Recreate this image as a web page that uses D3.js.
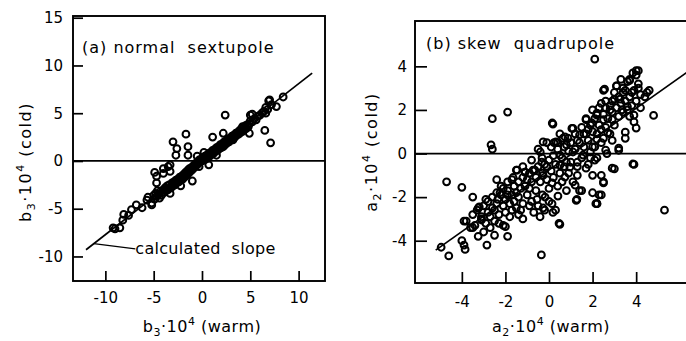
<!DOCTYPE html>
<html>
<head>
<meta charset="utf-8">
<script src="https://cdn.jsdelivr.net/npm/d3@7/dist/d3.min.js"></script>
<style>
  html, body { margin: 0; padding: 0; background: #fff; }
  svg { display: block; }
  text { font-family: "DejaVu Sans", sans-serif; fill: #000; white-space: pre; }
</style>
</head>
<body>
<svg id="chart" width="686" height="341"></svg>
<script>
// ---------- Data ----------
// (a) normal sextupole: [b3 warm, b3 cold] (x 10^-4)
const sextupolePoints = [
  [-9.2,-7.0],[-9.0,-7.1],[-8.5,-7.0],[-8.2,-6.2],[-8.1,-5.6],[-7.6,-5.7],[-7.3,-5.1],[-6.8,-4.6],
  [-6.2,-4.9],[-5.7,-4.1],[-5.6,-3.8],[-5.2,-4.6],[-5.2,-4.4],[-5.0,-3.6],[-4.9,-4.0],[-4.8,-3.4],
  [-4.7,-3.7],[-4.6,-3.1],[-4.5,-3.5],[-4.4,-3.9],[-4.3,-3.2],[-4.2,-3.6],[-4.0,-3.0],[-3.9,-3.3],
  [-3.8,-2.8],[-3.7,-3.1],[-3.6,-2.6],[-3.5,-3.0],[-3.4,-2.5],[-3.3,-3.4],[-3.2,-2.8],[-3.1,-2.3],
  [-3.0,-2.6],[-2.9,-2.2],[-2.8,-2.5],[-2.7,-2.0],[-2.6,-2.3],[-2.5,-1.9],[-2.4,-2.2],[-2.3,-1.7],
  [-2.2,-2.0],[-2.1,-1.6],[-2.0,-1.9],[-1.9,-1.4],[-1.8,-1.7],[-1.7,-1.2],[-1.6,-1.5],[-1.5,-1.0],
  [-1.4,-1.3],[-1.3,-0.8],[-1.2,-1.1],[-1.1,-0.7],[-1.0,-0.9],[-0.9,-0.5],[-0.8,-0.7],[-0.7,-0.3],
  [-0.6,-0.5],[-0.5,-0.1],[-0.4,-0.3],[-0.3,0.1],[-0.2,-0.1],[-0.1,0.2],[0.0,0.0],[0.1,0.3],
  [0.2,0.1],[0.3,0.5],[0.4,0.2],[0.5,0.6],[0.6,0.4],[0.7,0.8],[0.8,0.5],[0.9,0.9],[1.0,0.7],
  [1.1,1.1],[1.2,0.8],[1.3,1.2],[1.4,1.0],[1.5,1.4],[1.6,1.1],[1.7,1.5],[1.8,1.3],[1.9,1.7],
  [2.0,1.4],[2.1,1.8],[2.2,1.5],[2.3,2.0],[2.4,1.7],[2.5,2.1],[2.6,1.9],[2.7,2.3],[2.8,2.0],
  [2.9,2.4],[3.0,2.2],[3.1,2.6],[3.2,2.3],[3.3,2.7],[3.4,2.5],[3.5,2.9],[3.6,2.7],[3.7,3.0],
  [3.8,2.8],[3.9,3.2],[4.0,3.0],[4.1,3.4],[4.2,3.1],[4.3,3.5],[4.4,3.3],[4.5,3.7],[4.6,3.4],
  [4.7,3.8],[4.8,3.6],[4.9,3.9],[5.0,4.2],[5.2,4.1],[5.4,4.4],[5.6,4.3],[5.8,4.7],[6.0,4.8],
  [6.2,5.0],[6.4,5.2],[6.6,5.6],[6.8,5.4],[7.0,6.4],[6.9,6.3],[7.2,5.9],[7.7,5.7],[8.4,6.7],
  [-2.95,-2.45],[-2.55,-2.05],[-2.15,-1.75],[-1.75,-1.45],[-1.35,-1.05],[-0.95,-0.75],[-0.55,-0.35],
  [-0.15,0.05],[0.25,0.25],[0.65,0.55],[1.05,0.85],[1.45,1.25],[1.85,1.45],[2.25,1.85],[2.65,2.15],
  [3.05,2.45],[3.45,2.75],[3.85,3.05],[-3.85,-3.05],[-4.45,-3.45],[4.2,3.6],
  [2.4,4.8],[6.5,3.2],[7.1,1.9],[5.0,4.8],[5.2,4.9],[1.1,2.5],[2.2,2.9],[6.6,5.0],[4.9,2.9],[3.2,2.2],
  [-1.66,2.8],[-3.0,2.0],[-1.45,1.5],[-2.6,1.3],[-2.7,0.6],[-1.45,0.6],[-4.9,-1.2],[-4.7,-1.6],
  [-4.0,-0.8],[-3.5,-0.6],[-3.3,-1.1],[-4.0,-1.3],[-3.3,-0.4],[-4.7,-2.3],[-0.5,0.5],[0.7,-0.4],
  [-1.0,-2.1],[-2.2,-2.6],[-0.3,-0.6],[1.5,0.6],[0.2,0.9]
];
// (b) skew quadrupole: [a2 warm, a2 cold] (x 10^-4)
const quadrupolePoints = [
  [2.1,4.33],[-2.6,1.6],[-1.9,1.9],[-2.66,0.4],[-2.6,0.2],[0.15,1.4],[-4.7,-1.3],[-4.0,-1.55],
  [-3.5,-2.0],[-2.4,-1.2],[-4.95,-4.3],[-4.6,-4.7],[-3.9,-3.1],[-4.0,-4.0],[-3.9,-4.2],[-3.85,-4.4],
  [-3.25,-3.8],[-2.85,-4.2],[-2.5,-3.75],[-1.9,-3.8],[-2.1,-3.3],[-3.25,-2.5],[-3.5,-3.4],[-3.1,-3.0],
  [-2.8,-2.7],[-2.5,-2.6],[-2.35,-2.1],[-2.4,-1.8],[-2.1,-1.6],[-1.9,-1.9],[-1.7,-1.2],[-3.2,-2.45],
  [-2.9,-2.1],[-0.35,-4.65],[0.5,-3.25],[5.3,-2.6],[4.8,1.75],[3.9,-0.5],[3.2,0.15],[3.0,-0.7],
  [2.55,2.95],[3.1,3.1],[4.0,3.8],[3.7,3.35],[4.6,2.9],[1.25,-2.15],[2.2,-2.3],[2.4,-1.9],
  [2.5,-1.3],[1.5,-1.7],[-2.0,-3.35],
  [-1.47,-0.76],[-1.1,-0.85],[-0.73,-0.76],[-0.32,-0.2],[-0.27,-1.0],[0.14,-1.35],[0.41,-1.95],
  [-0.18,-2.0],[-0.55,-2.1],[0.14,-2.3],[-0.27,-2.5],[-0.41,-2.9],[0.18,-2.7],[-1.2,-3.0],[-1.4,-2.8],
  [0.46,-3.2],[1.2,-1.45],[1.4,-1.7],[1.28,-2.1],[2.0,-1.8],[2.3,-1.9],[2.2,-2.3],[2.5,-1.35],
  [2.4,-1.0],[1.7,-0.67],[1.3,-1.0],[0.73,-1.08],[0.96,-0.62],[0.5,-0.53],[2.1,-0.3],[1.9,0.07],
  [2.66,0.0],[-1.65,-1.1],[-1.7,-2.6],
  [4.1,3.8],[4.0,3.6],[4.1,3.2],[3.7,3.4],[3.85,3.7],[3.1,3.1],[3.0,2.8],[2.5,2.9],[3.4,2.8],
  [3.8,2.8],[4.2,2.7],[4.5,2.8],[4.4,2.6],[3.9,1.76],[3.9,1.45],[4.0,1.17],[3.5,0.98],[3.5,0.7],
  [2.9,0.6],[3.2,0.25],[2.6,0.16],[2.1,0.3],[2.2,-0.2],[2.9,-0.67],[3.85,-0.48],[2.0,-1.0],
  [2.15,-2.3],[2.2,1.85],[2.8,2.0],[2.5,1.55],[2.9,1.55],[3.35,2.0],[3.6,2.15],[3.7,1.7],
  [2.0,1.0],[2.4,1.1],[2.7,0.95],[2.5,0.7],[1.97,1.4],[2.2,0.66],
  [0.18,1.35],[-0.1,0.5],[0.23,0.5],[0.64,0.7],[1.05,1.15],[1.4,0.85],[1.7,1.55],[1.8,1.1],
  [2.2,1.8],[0.87,0.7],[0.4,0.5],[-0.4,0.07],[-0.33,-0.4],[0.5,-0.07],[1.1,0.07],[1.56,-0.07],
  [0.8,-0.4],[1.9,-0.2],[1.3,-0.4],
  [-3.3,-2.6],[-3.1,-2.9],[-3.0,-2.4],[-2.9,-3.2],[-2.8,-2.2],[-2.7,-2.9],[-2.6,-2.5],[-2.5,-3.1],
  [-2.4,-2.3],[-2.3,-2.8],[-2.2,-1.9],[-2.1,-2.4],[-2.0,-2.1],[-2.0,-2.7],
  [-1.9,-1.7],[-1.8,-2.3],[-1.7,-1.9],[-1.6,-1.5],[-1.6,-2.2],[-1.5,-1.8],[-1.4,-1.3],[-1.4,-2.0],
  [-1.3,-1.6],[-1.2,-1.1],[-1.2,-2.3],[-1.1,-1.5],[-1.0,-1.2],[-1.0,-1.9],[-0.9,-0.9],
  [-0.9,-1.6],[-0.8,-1.3],[-0.8,-2.2],[-0.7,-0.8],[-0.6,-1.1],[-0.6,-1.7],[-0.5,-0.6],[-0.5,-2.4],
  [-0.4,-1.3],[-0.3,-0.9],[-0.3,-1.9],[-0.2,-0.5],[-0.2,-2.6],[-0.1,-1.2],[0.0,-0.3],[0.0,-1.6],
  [0.0,-2.2],[0.1,-0.8],[0.2,-0.1],[0.2,-1.1],[0.3,-2.6],[0.3,-0.5],[0.4,0.2],[0.4,-1.5],[0.5,-0.9],
  [0.6,-0.2],[0.6,-1.3],[0.7,0.3],[0.7,-0.6],[0.8,-1.7],[0.9,0.1],[0.9,-0.9],[1.0,0.5],[1.0,-0.4],
  [1.1,-1.3],[1.2,0.2],[1.2,0.9],[1.3,-0.6],[1.4,0.5],[1.5,-0.2],[1.5,1.2],[1.6,0.3],[1.7,0.9],
  [1.8,-0.5],[1.8,0.6],[1.9,1.3],[2.0,0.3],
  [2.1,1.6],[2.2,0.9],[2.3,1.3],[2.3,2.1],[2.4,0.5],[2.5,1.8],[2.6,1.2],[2.6,2.4],[2.7,1.6],
  [2.8,2.2],[2.8,0.9],[2.9,1.9],[3.0,2.5],[3.0,1.3],
  [3.1,2.1],[3.2,1.7],[3.2,2.6],[3.3,2.3],[3.4,1.9],[3.4,3.0],[3.5,2.4],[3.6,2.0],[3.6,3.3],
  [3.7,2.6],[3.8,2.2],[3.9,2.9],[4.0,2.4],[4.1,3.0],[4.2,2.1],
  [-3.8,-3.1],[-3.6,-3.4],[-3.5,-2.8],[-3.4,-3.3],[-3.1,-3.05],
  [-2.25,-1.8],[-1.5,-0.76],[-1.1,-0.85],[-0.65,-0.76],[-0.27,0.53],[0.32,0.53],[0.73,0.76],
  [1.1,1.15],[1.7,1.6],[2.2,1.76],[2.6,2.1],[3.26,2.5],
  [-3.0,-3.6],[-2.7,-3.4],[-2.3,-3.2],[-1.8,-2.9],[-1.5,-2.5],[-1.3,-2.6],[-0.9,-2.4],[-0.7,-2.7],
  [-2.6,-2.0],[-2.2,-1.5],[-1.9,-1.3],[-1.2,-0.6],[-0.8,-0.3],[-0.5,0.2],[-0.1,-0.6],[0.1,0.3],
  [0.5,0.9],[0.8,0.4],[1.3,0.6],[1.6,0.9],[2.0,2.0],[2.4,2.3],[2.9,2.4],[3.3,3.4],[3.5,2.9]
];
// fitted / calculated slope lines (endpoints in data units)
const sextupoleSlope = [[-12.0,-9.3],[11.4,9.2]];
const quadrupoleSlope = [[-5.2,-4.43],[7.0,4.2]];
// tick values
const sextupoleXTicks = [-10,-5,0,5,10];
const sextupoleYTicks = [-10,-5,0,5,10,15];
const quadrupoleXTicks = [-4,-2,0,2,4];
const quadrupoleYTicks = [-4,-2,0,2,4];

// ---------- Drawing ----------
const svg = d3.select("#chart");

function panel(cfg) {
  const x = d3.scaleLinear().domain(cfg.xDomain).range([cfg.left, cfg.right]);
  const y = d3.scaleLinear().domain(cfg.yDomain).range([cfg.bottom, cfg.top]);
  const g = svg.append("g");

  const xa = g.append("g").attr("transform", `translate(0,${cfg.bottom})`)
    .call(d3.axisBottom(x).tickValues(cfg.xTicks).tickSize(-cfg.xTickLen)
      .tickPadding(cfg.xPad).tickFormat(d => String(d)));
  xa.select(".domain").remove();
  xa.selectAll("line").attr("stroke", "#000").attr("stroke-width", 1.7);
  xa.selectAll("text").attr("font-size", 15).attr("fill", "#000")
    .style("font-family", "DejaVu Sans");

  const ya = g.append("g").attr("transform", `translate(${cfg.left},0)`)
    .call(d3.axisLeft(y).tickValues(cfg.yTicks).tickSize(-cfg.yTickLen)
      .tickPadding(cfg.yPad).tickFormat(d => String(d)));
  ya.select(".domain").remove();
  ya.selectAll("line").attr("stroke", "#000").attr("stroke-width", 1.7);
  ya.selectAll("text").attr("font-size", 15).attr("fill", "#000")
    .style("font-family", "DejaVu Sans");

  g.append("rect").attr("x", cfg.left).attr("y", cfg.top)
    .attr("width", cfg.frameRight - cfg.left).attr("height", cfg.bottom - cfg.top)
    .attr("fill", "none").attr("stroke", "#000").attr("stroke-width", 1.9);

  g.append("line").attr("x1", cfg.left).attr("x2", cfg.frameRight)
    .attr("y1", y(0)).attr("y2", y(0)).attr("stroke", "#000").attr("stroke-width", 1.7);

  g.append("path").datum(cfg.slope)
    .attr("d", d3.line().x(d => x(d[0])).y(d => y(d[1])))
    .attr("stroke", "#000").attr("stroke-width", 1.7).attr("fill", "none");

  g.append("g").selectAll("circle").data(cfg.points).join("circle")
    .attr("cx", d => x(d[0])).attr("cy", d => y(d[1])).attr("r", 3.4)
    .attr("fill", "none").attr("stroke", "#000").attr("stroke-width", 2);

  g.append("text").attr("x", cfg.titleX).attr("y", cfg.titleY)
    .attr("font-size", 16).attr("letter-spacing", 1).text(cfg.title);

  function label(sel, sym, sub, tail) {
    sel.append("tspan").text(sym);
    sel.append("tspan").attr("font-size", 11).attr("dy", 4).text(sub);
    sel.append("tspan").attr("dy", -4).text("\u00B710");
    sel.append("tspan").attr("font-size", 11).attr("dy", -7).text("4");
    sel.append("tspan").attr("dy", 7).text(" " + tail);
  }
  const xl = g.append("text").attr("x", cfg.xLabelX).attr("y", 332)
    .attr("text-anchor", "middle").attr("font-size", 16).attr("letter-spacing", 0.5);
  label(xl, cfg.sym, cfg.sub, "(warm)");
  const yl = g.append("text")
    .attr("transform", `translate(${cfg.yLabelX},${cfg.yLabelY}) rotate(-90)`)
    .attr("text-anchor", "middle").attr("font-size", 16).attr("letter-spacing", 1.5);
  label(yl, cfg.sym, cfg.sub, "(cold)");
  return {x, y, g};
}

const A = panel({
  xDomain: [-13.35, 12.73], yDomain: [-12.57, 15.18],
  left: 73, right: 325, frameRight: 325, top: 16, bottom: 281,
  xTicks: sextupoleXTicks, yTicks: sextupoleYTicks, xTickLen: 10, yTickLen: 10,
  xPad: 11, yPad: 10, slope: sextupoleSlope, points: sextupolePoints,
  title: "(a) normal  sextupole", titleX: 82, titleY: 53,
  sym: "b", sub: "3", xLabelX: 202, yLabelX: 31, yLabelY: 162
});

A.g.append("line").attr("x1", A.x(-11.2)).attr("y1", A.y(-8.65))
  .attr("x2", A.x(-6.9)).attr("y2", A.y(-9.2))
  .attr("stroke", "#000").attr("stroke-width", 1.2);
A.g.append("text").attr("x", A.x(-6.9)).attr("y", A.y(-9.2) + 5)
  .attr("font-size", 16).attr("letter-spacing", 0.3).text("calculated  slope");

panel({
  xDomain: [-6.15, 6.93], yDomain: [-5.94, 6.08],
  left: 415, right: 700, frameRight: 700, top: 21, bottom: 283,
  xTicks: quadrupoleXTicks, yTicks: quadrupoleYTicks, xTickLen: 11, yTickLen: 12,
  xPad: 13, yPad: 8, slope: quadrupoleSlope, points: quadrupolePoints,
  title: "(b) skew  quadrupole", titleX: 426, titleY: 49,
  sym: "a", sub: "2", xLabelX: 551, yLabelX: 377, yLabelY: 152
});
</script>
</body>
</html>
